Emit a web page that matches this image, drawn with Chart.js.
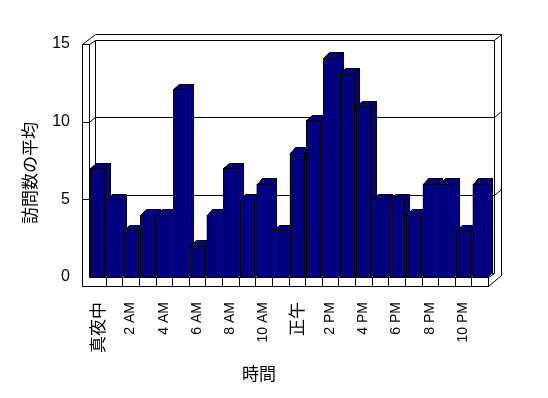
<!DOCTYPE html>
<html>
<head>
<meta charset="utf-8">
<script src="https://cdn.jsdelivr.net/npm/chart.js@4/dist/chart.umd.min.js"></script>
<style>
  html, body { margin: 0; padding: 0; background: #fff; }
  canvas { display: block; }
</style>
</head>
<body>
<canvas id="chart" width="548" height="398"></canvas>
<script>
// -- DATA -- //
const hours = ['真夜中', '1 AM', '2 AM', '3 AM', '4 AM', '5 AM', '6 AM', '7 AM', '8 AM', '9 AM', '10 AM', '11 AM',
               '正午', '1 PM', '2 PM', '3 PM', '4 PM', '5 PM', '6 PM', '7 PM', '8 PM', '9 PM', '10 PM', '11 PM'];
const visits = [7, 5, 3, 4, 4, 12.1, 2, 4, 7, 5, 6, 3, 8, 10.1, 14.1, 13.1, 11, 5, 5, 4, 6, 6, 3, 6];
const y_ticks = [0, 5, 10, 15];
const x_title = '時間';
const y_title = '訪問数の平均';

const bar_color = '#000080';
const wall_dx = 6, wall_dy = -4.5;   // depth of the back wall
const bar_dx = 5.5, bar_dy = -5.5;   // depth of each bar
const slab = 7;                       // wall / floor thickness

const jp_font = "'Noto Sans CJK JP', 'Liberation Sans', sans-serif";
const num_font = "'Liberation Sans', 'Noto Sans CJK JP', sans-serif";

function px(v) { return Math.round(v) + 0.5; }

function line(ctx, pts) {
    ctx.beginPath();
    ctx.moveTo(px(pts[0][0]), px(pts[0][1]));
    for (let i = 1; i < pts.length; i++) ctx.lineTo(px(pts[i][0]), px(pts[i][1]));
    ctx.stroke();
}

function poly(ctx, pts, fill) {
    ctx.beginPath();
    ctx.moveTo(px(pts[0][0]), px(pts[0][1]));
    for (let i = 1; i < pts.length; i++) ctx.lineTo(px(pts[i][0]), px(pts[i][1]));
    ctx.closePath();
    ctx.fillStyle = fill;
    ctx.fill();
    ctx.stroke();
}

// walls, floor and grid of the 3d box
const frame3d = {
    id: 'frame3d',
    beforeDatasetsDraw(chart) {
        const ctx = chart.ctx;
        const ys = chart.scales.y, xs = chart.scales.x;
        const L = chart.chartArea.left, R = chart.chartArea.right;
        const T = ys.getPixelForValue(15), B = ys.getPixelForValue(0);
        ctx.save();
        ctx.strokeStyle = '#000';
        ctx.lineWidth = 1;
        // outer outline
        poly(ctx, [[L - slab, T], [L + wall_dx, T + wall_dy - 6], [R + wall_dx + slab, T + wall_dy - 6],
                   [R + wall_dx + slab, B - 2], [R, B + 9], [L - slab, B + 9]], '#fff');
        // left wall front edge + floor front edge
        line(ctx, [[L - slab, T], [L, T], [L, B], [R, B], [R, B + 9]]);
        line(ctx, [[L, T], [L + wall_dx, T + wall_dy], [R + wall_dx, T + wall_dy], [R + wall_dx + slab, T + wall_dy - 6]]);
        line(ctx, [[L + wall_dx, T + wall_dy], [L + wall_dx, B + wall_dy], [R + wall_dx, B + wall_dy], [R, B]]);
        line(ctx, [[R + wall_dx, T + wall_dy], [R + wall_dx, B + wall_dy]]);
        // grid lines on the walls
        y_ticks.forEach(v => {
            if (v === 0 || v === 15) return;
            const y = ys.getPixelForValue(v);
            line(ctx, [[L - slab, y], [L, y], [L + wall_dx, y + wall_dy], [R + wall_dx, y + wall_dy],
                       [R + wall_dx + slab, y + wall_dy - 6]]);
        });
        // floor dividers between categories
        for (let i = 1; i < hours.length; i++) {
            const x = (xs.getPixelForValue(i - 1) + xs.getPixelForValue(i)) / 2;
            line(ctx, [[x, B], [x, B + 9]]);
        }
        ctx.restore();
    },
    afterDatasetsDraw(chart) {
        const ctx = chart.ctx;
        const meta = chart.getDatasetMeta(0);
        ctx.save();
        ctx.strokeStyle = '#000';
        ctx.lineWidth = 1;
        meta.data.forEach(bar => {
            const x0 = bar.x - bar.width / 2, x1 = bar.x + bar.width / 2;
            const y0 = bar.y, y1 = bar.base;
            poly(ctx, [[x1, y0], [x1 + bar_dx, y0 + bar_dy], [x1 + bar_dx, y1 + bar_dy], [x1, y1]], bar_color);
            poly(ctx, [[x0, y0], [x0 + bar_dx, y0 + bar_dy], [x1 + bar_dx, y0 + bar_dy], [x1, y0]], bar_color);
            poly(ctx, [[x0, y0], [x1, y0], [x1, y1], [x0, y1]], bar_color);
        });
        ctx.restore();
    },
    afterDraw(chart) {
        const ctx = chart.ctx;
        ctx.save();
        ctx.fillStyle = '#000';
        ctx.font = '17px ' + jp_font;
        ctx.textAlign = 'center';
        ctx.textBaseline = 'middle';
        ctx.fillText(x_title, 259, 374);
        ctx.translate(30, 173);
        ctx.rotate(-Math.PI / 2);
        ctx.fillText(y_title, 0, 0);
        ctx.restore();
    }
};

// CJK labels read larger than the latin ones in the original
function TickFont(c) {
    const label = hours[c.index] || '';
    const cjk = /[^\x00-\x7f]/.test(label);
    return { family: cjk ? jp_font : num_font, size: cjk ? 17 : 14 };
}

const chart_ctx = document.getElementById('chart').getContext('2d');
const visits_chart = new Chart(chart_ctx, {
    type: 'bar',
    data: {
        labels: hours,
        datasets: [{
            data: visits,
            backgroundColor: bar_color,
            borderColor: '#000',
            borderWidth: 0,
            barPercentage: 0.84,
            categoryPercentage: 1.0
        }]
    },
    options: {
        responsive: false,
        animation: false,
        devicePixelRatio: 1,
        layout: { padding: { left: 0, right: 60, top: 44, bottom: 0 } },
        plugins: { legend: { display: false }, tooltip: { enabled: false } },
        scales: {
            x: {
                grid: { display: false, drawTicks: false },
                border: { display: false },
                ticks: {
                    autoSkip: false,
                    minRotation: 90,
                    maxRotation: 90,
                    padding: 25,
                    color: '#000',
                    font: TickFont,
                    callback: (val, i) => (i % 2 === 0 ? hours[i] : '')
                },
                afterFit: s => { s.height = 121; }
            },
            y: {
                min: 0,
                max: 15,
                grid: { display: false, drawTicks: false },
                border: { display: false },
                ticks: {
                    stepSize: 5,
                    padding: 19,
                    color: '#000',
                    font: { family: num_font, size: 16 }
                },
                afterFit: s => { s.width = 89; }
            }
        }
    },
    plugins: [frame3d]
});
</script>
</body>
</html>
